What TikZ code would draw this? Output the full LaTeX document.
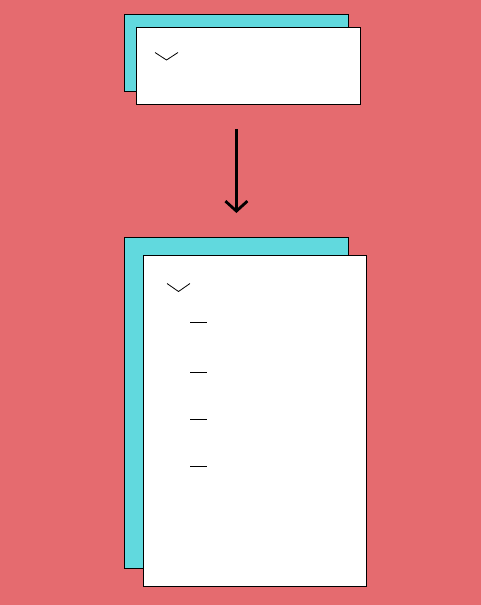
\documentclass[tikz,border=0pt]{standalone}
\usetikzlibrary{arrows.meta}
\definecolor{bgred}{RGB}{229,107,111}
\definecolor{teal}{RGB}{97,217,222}

\begin{document}
\begin{tikzpicture}[x=1pt,y=-1pt,
    card/.style={draw=black,fill=white,line width=0.8pt,inner sep=0pt,anchor=north west},
    back/.style={card,fill=teal}]
            \fill[bgred] (0,0) rectangle (481,605);
            \useasboundingbox (0,0) rectangle (481,605);
            % closed
            \node[back,minimum width=224pt,minimum height=77pt] (topback) at (124,14) {};
            \node[card,minimum width=224pt,minimum height=77pt] (topfront) at (136,27) {};
            \draw[line width=0.8pt] (155,52.5) -- (166.5,60) -- (178,52.5);
            % open
            \node[back,minimum width=224pt,minimum height=331pt] (botback) at (124,237) {};
            \node[card,minimum width=223pt,minimum height=331pt] (botfront) at (143,255) {};
            \draw[line width=0.8pt] (167,283.5) -- (178.5,291.5) -- (190,283.5);
            \foreach \y in {322,372,419,466}
                \draw[line width=1pt] (190,\y) -- (207,\y);
            % arrow
            \draw[line width=2.8pt,-{Straight Barb[length=10pt,width=22pt,line width=2.8pt]},
                  shorten <=24pt,shorten >=24pt] (topback.south |- topfront.south) -- (botback.north);
        \end{tikzpicture}
\end{document}
